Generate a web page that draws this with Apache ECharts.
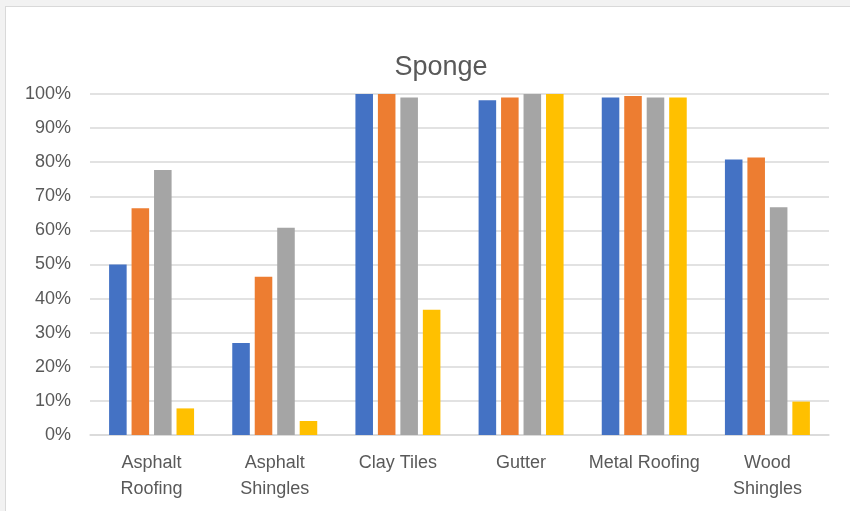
<!DOCTYPE html>
<html>
<head>
<meta charset="utf-8">
<script src="https://cdn.jsdelivr.net/npm/echarts@6/dist/echarts.min.js"></script>
<style>
  html, body { margin: 0; padding: 0; background: #f2f2f2; width: 850px; height: 511px; overflow: hidden; }
  #frame { position: absolute; left: 5px; top: 6px; width: 900px; height: 600px; background: #ffffff; border: 1px solid #d9d9d9; }
  #chart { position: absolute; left: 0; top: 0; width: 850px; height: 511px; }
</style>
</head>
<body>
<div id="frame"></div>
<div id="chart"></div>
<script>
const title = 'Sponge';
const categories = ['Asphalt\nRoofing', 'Asphalt\nShingles', 'Clay Tiles', 'Gutter', 'Metal Roofing', 'Wood\nShingles'];
const seriesNames = ['Series 1', 'Series 2', 'Series 3', 'Series 4'];
const series1 = [50, 27, 100, 98.2, 99, 80.8];
const series2 = [66.5, 46.4, 100, 99, 99.4, 81.4];
const series3 = [77.7, 60.8, 99, 100, 99, 66.8];
const series4 = [7.8, 4.1, 36.7, 100, 99, 9.8];
const colors = ['#4472C4', '#ED7D31', '#A5A5A5', '#FFC000'];

const font = '"Liberation Sans", Arial, sans-serif';
const chart = echarts.init(document.getElementById('chart'), null, { renderer: 'canvas' });
const data = [series1, series2, series3, series4];
chart.setOption({
  backgroundColor: 'transparent',
  animation: false,
  graphic: [{
    type: 'text',
    x: 441, y: 68,
    style: { text: title, fill: '#595959', font: '27px ' + font, textAlign: 'center', textVerticalAlign: 'middle' }
  }],
  grid: { left: 90, right: 21, top: 94, bottom: 76, containLabel: false },
  xAxis: {
    type: 'category',
    data: categories,
    axisLine: { show: true, lineStyle: { color: '#d9d9d9', width: 1.5 } },
    axisTick: { show: false },
    axisLabel: { color: '#595959', fontSize: 18, fontFamily: font, lineHeight: 26, margin: 15, interval: 0 }
  },
  yAxis: {
    type: 'value',
    min: 0, max: 100, interval: 10,
    axisLine: { show: false },
    axisTick: { show: false },
    splitLine: { lineStyle: { color: '#d9d9d9', width: 1.5 } },
    axisLabel: { color: '#595959', fontSize: 18, fontFamily: font, margin: 19, formatter: '{value}%' }
  },
  series: data.map((d, i) => ({
    name: seriesNames[i],
    type: 'bar',
    data: d,
    itemStyle: { color: colors[i] },
    barGap: '28%',
    barCategoryGap: '31%'
  }))
});
</script>
</body>
</html>
